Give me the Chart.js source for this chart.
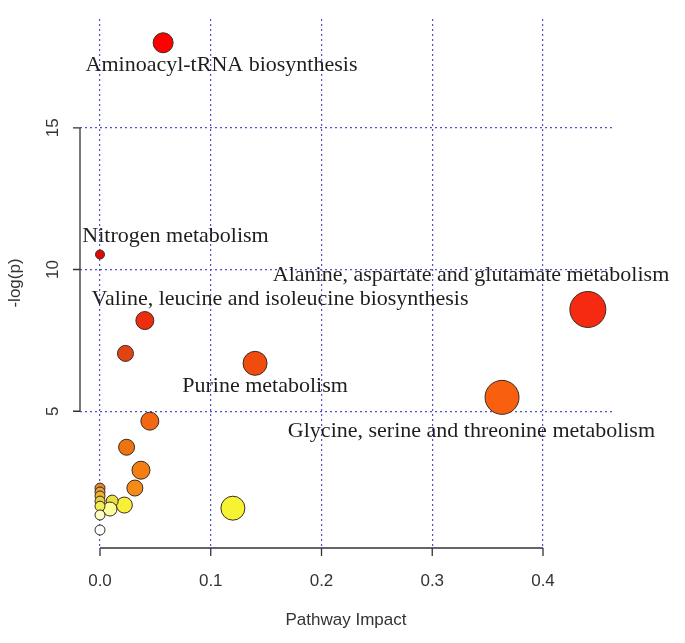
<!DOCTYPE html>
<html lang="en">
    <head>
        <meta charset="UTF-8" />
        <title>Pathway Impact</title>
        <script src="https://cdn.jsdelivr.net/npm/chart.js"></script>
        <style>
            body { margin: 0; background: #fff; }
            #wrap { width: 685px; height: 643px; }
        </style>
    </head>
    <body>
        <div id="wrap"><canvas id="impactChart" width="685" height="643"></canvas></div>

        <script>
            // pathway impact (x) and -log(p) (y)
            const impact = [0.057, 0.0, 0.4405, 0.0405, 0.023, 0.14, 0.363, 0.045, 0.024, 0.037, 0.0315,
                0.12, 0.022, 0.011, 0.009, 0.0, 0.0, 0.0, 0.0, 0.0, 0.0, 0.0];
            const logP = [18.0, 10.53, 8.59, 8.2, 7.04, 6.69, 5.49, 4.65, 3.73, 2.92, 2.29,
                1.58, 1.69, 1.83, 1.55, 2.29, 2.15, 2.01, 1.83, 1.65, 1.34, 0.81];
            const radius = [10, 4.5, 18, 9, 8, 12, 17, 9, 8, 9, 8, 12, 8, 6, 7, 5, 5, 5, 5, 5, 5, 5];
            const colors = ['#ff0000', '#e00808', '#f52a10', '#ee2c10', '#e04412', '#f04c10', '#f86010',
                '#f26812', '#ee7412', '#f57e14', '#f48a18', '#f6f432', '#f8f038', '#e8e040', '#ffff9a',
                '#e08a30', '#e8a040', '#f0b434', '#e4d044', '#f0f050', '#ffffc8', '#ffffff'];

            const xTicks = [0, 0.1, 0.2, 0.3, 0.4];
            const yTicks = [5, 10, 15];

            const pathwayNames = ['Aminoacyl-tRNA biosynthesis', 'Nitrogen metabolism',
                'Alanine, aspartate and glutamate metabolism', 'Valine, leucine and isoleucine biosynthesis',
                'Purine metabolism', 'Glycine, serine and threonine metabolism'];
            // where each name is written, in data units (centre of the text)
            const nameAt = [[0.1097, 17.2], [0.0682, 11.17], [0.335, 9.8], [0.1625, 8.95], [0.149, 5.9], [0.3354, 4.3]];

            const points = impact.map((x, i) => ({ x: x, y: logP[i], r: radius[i] }));

            const rAxes = {
                id: 'rAxes',
                afterDatasetsDraw(chart) {
                    const { ctx, chartArea, scales } = chart;
                    const xs = scales.x;
                    const ys = scales.y;
                    ctx.save();
                    ctx.strokeStyle = '#333';
                    ctx.lineWidth = 1.3;
                    ctx.fillStyle = '#333';

                    // y axis, only from first to last tick
                    const ax = chartArea.left;
                    ctx.beginPath();
                    ctx.moveTo(ax, ys.getPixelForValue(yTicks[0]));
                    ctx.lineTo(ax, ys.getPixelForValue(yTicks[yTicks.length - 1]));
                    yTicks.forEach((v) => {
                        const py = ys.getPixelForValue(v);
                        ctx.moveTo(ax, py);
                        ctx.lineTo(ax - 7, py);
                    });
                    ctx.stroke();
                    ctx.font = '17px "Liberation Sans", Arial, sans-serif';
                    ctx.textAlign = 'center';
                    ctx.textBaseline = 'middle';
                    yTicks.forEach((v) => {
                        ctx.save();
                        ctx.translate(ax - 27, ys.getPixelForValue(v));
                        ctx.rotate(-Math.PI / 2);
                        ctx.fillText(String(v), 0, 0);
                        ctx.restore();
                    });
                    ctx.save();
                    ctx.translate(15, 283);
                    ctx.rotate(-Math.PI / 2);
                    ctx.fillText('-log(p)', 0, 0);
                    ctx.restore();

                    // x axis
                    const ay = chartArea.bottom + 2;
                    ctx.beginPath();
                    ctx.moveTo(xs.getPixelForValue(xTicks[0]), ay);
                    ctx.lineTo(xs.getPixelForValue(xTicks[xTicks.length - 1]), ay);
                    xTicks.forEach((v) => {
                        const px = xs.getPixelForValue(v);
                        ctx.moveTo(px, ay);
                        ctx.lineTo(px, ay + 8);
                    });
                    ctx.stroke();
                    xTicks.forEach((v) => {
                        ctx.fillText(v.toFixed(1), xs.getPixelForValue(v), 581);
                    });
                    ctx.fillText('Pathway Impact', (chartArea.left + chartArea.right) / 2, 620);

                    // pathway names
                    ctx.fillStyle = '#1e1e1e';
                    ctx.font = '22px "Liberation Serif", "Times New Roman", serif';
                    pathwayNames.forEach((name, i) => {
                        ctx.fillText(name, xs.getPixelForValue(nameAt[i][0]), ys.getPixelForValue(nameAt[i][1]));
                    });
                    ctx.restore();
                },
            };

            const hideSize = (s) => {
                if (s.isHorizontal()) s.height = 0;
                else s.width = 0;
            };

            new Chart(document.getElementById('impactChart'), {
                type: 'bubble',
                data: {
                    datasets: [
                        {
                            data: points,
                            backgroundColor: colors,
                            borderColor: '#3a2a20',
                            borderWidth: 1,
                        },
                    ],
                },
                options: {
                    responsive: false,
                    animation: false,
                    layout: { padding: { left: 80, right: 73, top: 18, bottom: 97 } },
                    plugins: { legend: { display: false }, tooltip: { enabled: false } },
                    scales: {
                        x: {
                            type: 'linear',
                            min: -0.01806,
                            max: 0.4623,
                            afterBuildTicks: (axis) => {
                                axis.ticks = xTicks.map((v) => ({ value: v }));
                            },
                            afterFit: hideSize,
                            ticks: { display: false },
                            border: { display: false, dash: [2, 3] },
                            grid: { color: '#5050c8', lineWidth: 1.2, drawTicks: false },
                        },
                        y: {
                            type: 'linear',
                            min: 0.246,
                            max: 18.838,
                            afterBuildTicks: (axis) => {
                                axis.ticks = yTicks.map((v) => ({ value: v }));
                            },
                            afterFit: hideSize,
                            ticks: { display: false },
                            border: { display: false, dash: [2, 3] },
                            grid: { color: '#5050c8', lineWidth: 1.2, drawTicks: false },
                        },
                    },
                },
                plugins: [rAxes],
            });
        </script>
    </body>
</html>
